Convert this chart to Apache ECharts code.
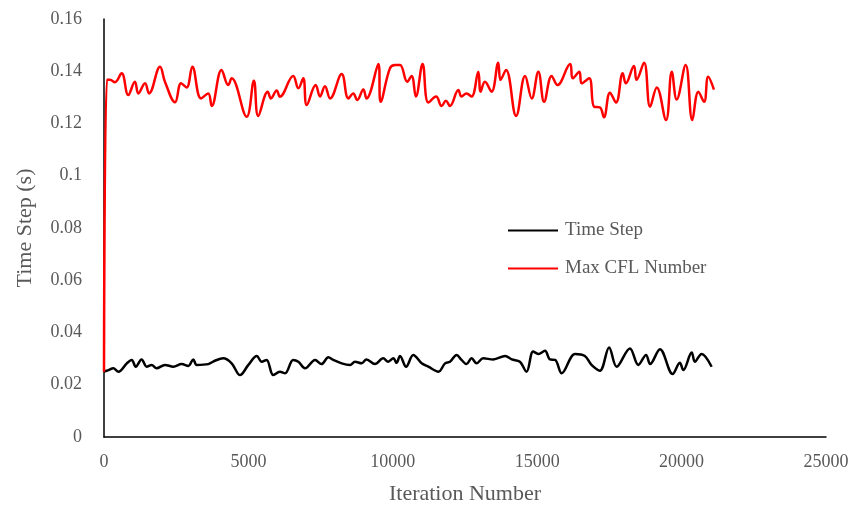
<!DOCTYPE html>
<html>
<head>
<meta charset="utf-8">
<script src="https://cdn.jsdelivr.net/npm/echarts@6/dist/echarts.min.js"></script>
<style>
  html, body { margin: 0; padding: 0; background: #fff; }
  #chart { width: 857px; height: 507px; }
</style>
</head>
<body>
<div id="chart"></div>
<script>
// Time Step (black)
var stepIter = [0, 150, 320, 500, 790, 960, 1100, 1300, 1480, 1650, 1820, 2110, 2400, 2690, 2920, 3090, 3210, 3610, 3840, 4130, 4420, 4710, 5000, 5290, 5460, 5630, 5860, 6090, 6270, 6550, 6730, 6960, 7310, 7530, 7770, 7940, 8230, 8520, 8690, 8920, 9090, 9380, 9670, 9840, 10020, 10130, 10250, 10460, 10710, 11000, 11230, 11580, 11810, 11980, 12210, 12380, 12550, 12730, 12900, 13130, 13480, 13890, 14120, 14400, 14630, 14860, 15040, 15270, 15440, 15620, 15850, 16310, 16650, 16880, 17170, 17490, 17750, 18210, 18500, 18770, 18910, 19250, 19690, 19940, 20060, 20350, 20460, 20690, 21040];
var stepVal = [0.025, 0.0256, 0.0263, 0.025, 0.0282, 0.0295, 0.0269, 0.0297, 0.0269, 0.0276, 0.0263, 0.0276, 0.0269, 0.0279, 0.0272, 0.0297, 0.0276, 0.0279, 0.0292, 0.0301, 0.0282, 0.0237, 0.0276, 0.031, 0.0288, 0.0295, 0.0237, 0.025, 0.0244, 0.0295, 0.0288, 0.0263, 0.0295, 0.0279, 0.0305, 0.0295, 0.0282, 0.0276, 0.0288, 0.0282, 0.0297, 0.0279, 0.0301, 0.0288, 0.0301, 0.0284, 0.031, 0.0269, 0.0314, 0.0282, 0.0269, 0.025, 0.0282, 0.0288, 0.0314, 0.0295, 0.0279, 0.0301, 0.0282, 0.0301, 0.0297, 0.031, 0.0297, 0.0288, 0.025, 0.0327, 0.0318, 0.033, 0.0297, 0.0295, 0.0244, 0.0318, 0.031, 0.0276, 0.0254, 0.0343, 0.0269, 0.0339, 0.0276, 0.0314, 0.0279, 0.0336, 0.0241, 0.0284, 0.0256, 0.0323, 0.0288, 0.0318, 0.0269];

// Max CFL Number (red)
var cflIter = [0, 100, 210, 380, 610, 840, 1070, 1190, 1420, 1560, 1940, 2110, 2460, 2670, 2860, 3060, 3360, 3610, 3730, 4070, 4300, 4420, 4940, 5190, 5340, 5670, 5780, 5980, 6090, 6550, 6730, 6900, 7020, 7330, 7480, 7650, 7830, 8230, 8460, 8630, 8770, 8980, 9090, 9500, 9580, 9900, 10080, 10250, 10500, 10650, 10800, 11030, 11230, 11500, 11690, 11840, 11980, 12270, 12380, 12550, 12730, 12960, 13040, 13190, 13420, 13650, 13730, 13920, 14270, 14580, 14810, 15040, 15240, 15500, 15700, 16140, 16230, 16460, 16540, 16800, 16970, 17170, 17310, 17520, 17730, 17960, 18070, 18350, 18440, 18700, 18910, 19140, 19460, 19660, 19830, 20140, 20370, 20580, 20780, 20920, 21120];
var cflVal = [0.025, 0.1367, 0.1367, 0.1358, 0.1392, 0.1309, 0.136, 0.1315, 0.1354, 0.1315, 0.1417, 0.136, 0.1281, 0.1354, 0.1338, 0.1417, 0.1296, 0.1315, 0.1267, 0.1405, 0.1347, 0.1373, 0.1226, 0.1364, 0.1229, 0.1322, 0.1296, 0.1326, 0.1303, 0.1382, 0.1335, 0.1373, 0.1271, 0.1347, 0.1303, 0.1343, 0.1296, 0.1389, 0.1296, 0.1315, 0.129, 0.133, 0.1296, 0.1428, 0.1283, 0.1411, 0.1424, 0.1424, 0.136, 0.1382, 0.1303, 0.1428, 0.128, 0.1303, 0.1267, 0.1287, 0.1267, 0.1328, 0.1303, 0.1315, 0.1303, 0.1398, 0.1322, 0.136, 0.1322, 0.1433, 0.1367, 0.1405, 0.1229, 0.1382, 0.1296, 0.1398, 0.1283, 0.1382, 0.1347, 0.1428, 0.1373, 0.1398, 0.1354, 0.1373, 0.1264, 0.1262, 0.1224, 0.1318, 0.128, 0.1392, 0.1354, 0.142, 0.1367, 0.1433, 0.1264, 0.1338, 0.1213, 0.1398, 0.1292, 0.1424, 0.1213, 0.1322, 0.1283, 0.1379, 0.133];

function pairs(xs, ys) {
  return xs.map(function (x, i) { return [x, ys[i]]; });
}

var font = 'Liberation Serif';
var grey = '#595959';

var chart = echarts.init(document.getElementById('chart'));
chart.setOption({
  animation: false,
  textStyle: { fontFamily: font },
  grid: { left: 104, right: 31, top: 19, bottom: 70, outerBoundsMode: 'none' },
  legend: {
    orient: 'vertical',
    left: 503,
    top: 216,
    icon: 'rect',
    itemWidth: 50,
    itemHeight: 2,
    itemGap: 19,
    textStyle: { color: grey, fontSize: 19, fontFamily: font, padding: [0, 0, 0, 2] },
    data: ['Time Step', 'Max CFL Number']
  },
  xAxis: {
    type: 'value',
    min: 0,
    max: 25000,
    interval: 5000,
    name: 'Iteration Number',
    nameLocation: 'middle',
    nameGap: 46,
    nameTextStyle: { color: grey, fontSize: 22, fontFamily: font },
    axisLine: { lineStyle: { color: '#000', width: 1.5 } },
    axisTick: { show: false },
    splitLine: { show: false },
    axisLabel: {
      color: grey, fontSize: 18, margin: 16, fontFamily: font,
      formatter: function (v) { return String(v); }
    }
  },
  yAxis: {
    type: 'value',
    min: 0,
    max: 0.16,
    interval: 0.02,
    name: 'Time Step (s)',
    nameLocation: 'middle',
    nameGap: 68,
    nameTextStyle: { color: grey, fontSize: 22, fontFamily: font },
    axisLine: { show: true, lineStyle: { color: '#000', width: 1.5 } },
    axisTick: { show: false },
    splitLine: { show: false },
    axisLabel: { color: grey, fontSize: 18, margin: 22, fontFamily: font }
  },
  series: [{
    name: 'Time Step',
    type: 'line',
    symbol: 'none',
    smooth: 0.35,
    color: '#000',
    lineStyle: { width: 2.5, color: '#000' },
    data: pairs(stepIter, stepVal)
  }, {
    name: 'Max CFL Number',
    type: 'line',
    symbol: 'none',
    smooth: 0.4,
    color: '#ff0000',
    lineStyle: { width: 2.5, color: '#ff0000' },
    data: pairs(cflIter, cflVal)
  }]
});
</script>
</body>
</html>
